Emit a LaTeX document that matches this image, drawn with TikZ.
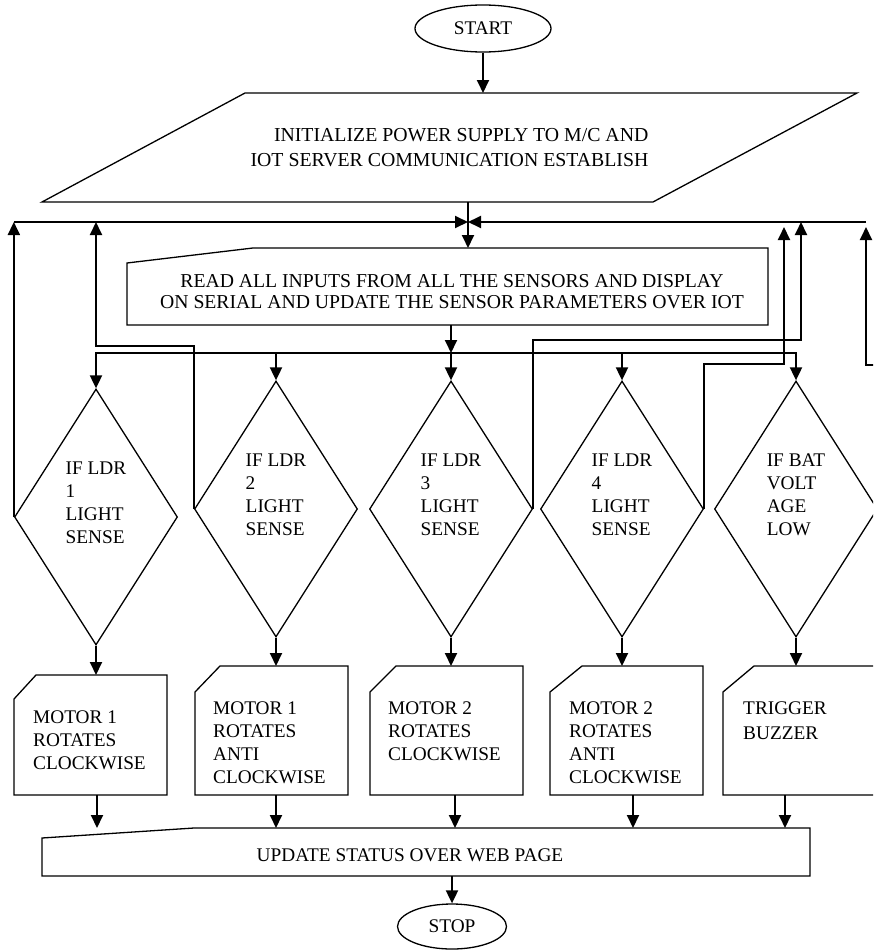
\documentclass[tikz,border=0pt]{standalone}
\usepackage{fontspec}
\setmainfont{Liberation Serif}
\usetikzlibrary{shapes.geometric,arrows.meta,calc}
\begin{document}
\begin{tikzpicture}[x=1pt,y=-1pt,
  txt/.style={font=\fontsize{19.3}{23}\selectfont, inner sep=0pt},
  frame/.style={inner sep=0pt, outer sep=0pt, draw=none},
  outl/.style={draw=black, line width=1.3pt, line join=miter},
  arr/.style={line width=1.9pt, -{Triangle[length=13pt,width=12pt]}},
  conn/.style={line width=1.9pt},
  term/.style={ellipse, draw, line width=1.3pt, inner sep=0pt, font=\fontsize{19.3}{23}\selectfont},
  dec/.style={diamond, draw, line width=1.3pt, minimum width=163pt, minimum height=256pt, inner sep=0pt}
]
\fill[white] (0,0) rectangle (873,950);
\useasboundingbox (0,0) rectangle (873,950);
\clip (0,0) rectangle (873,950);

% start
\node[term, minimum width=136pt, minimum height=47pt] (start) at (483,28.5) {START};

% initialize (parallelogram)
\node[frame, minimum width=815pt, minimum height=109pt, align=right, font=\fontsize{19.8}{25}\selectfont] (init) at (449.5,147.5) {INITIALIZE POWER SUPPLY TO M/C AND\\IOT SERVER COMMUNICATION ESTABLISH};
\draw[outl] ($(init.north west)+(203,0)$) -- (init.north east) -- ($(init.south east)+(-204,0)$) -- (init.south west) -- cycle;

\coordinate (J) at (468,222);
\draw[arr] (start.south) -- (start.south |- init.north);
\draw[conn] (J |- init.south) -- (J);

% read inputs
\node[frame, minimum width=641pt, minimum height=77pt] (read) at (447.5,286.5) {};
\draw[outl] (read.south west) -- ($(read.north west)+(0,15)$) -- ($(read.north west)+(126,0)$) -- (read.north east) -- (read.south east) -- cycle;
\node[txt, align=center, font=\fontsize{19.7}{21.5}\selectfont] (readt) at (452,291.5) {READ ALL INPUTS FROM ALL THE SENSORS AND DISPLAY\\ON SERIAL AND UPDATE THE SENSOR PARAMETERS OVER IOT};
\draw[arr] (J) -- (J |- read.north);

% decisions
\node[dec] (d1) at (96,517) {};
\node[dec] (d2) at (276,509) {};
\node[dec] (d3) at (451,509) {};
\node[dec] (d4) at (622,509) {};
\node[dec] (d5) at (796,509) {};
\node[txt, align=left] (d1t) at (96,503) {IF LDR\\1\\LIGHT\\SENSE};
\node[txt, align=left] (d2t) at (276,495) {IF LDR\\2\\LIGHT\\SENSE};
\node[txt, align=left] (d3t) at (451,495) {IF LDR\\3\\LIGHT\\SENSE};
\node[txt, align=left] (d4t) at (622,495) {IF LDR\\4\\LIGHT\\SENSE};
\node[txt, align=left] (d5t) at (796,495) {IF BAT\\VOLT\\AGE\\LOW};

% distribution to decisions
\coordinate (dl) at (0,353);
\draw[arr] (d3.north |- read.south) -- (d3.north |- dl);
\draw[arr] (d3.north |- dl) -| (d1.north);
\draw[arr] (d3.north |- dl) -| (d5.north);
\draw[arr] (d2.north |- dl) -- (d2.north);
\draw[arr] (d3.north |- dl) -- (d3.north);
\draw[arr] (d4.north |- dl) -- (d4.north);

% feedback loops
\coordinate (r3) at (801,222);
\coordinate (r4) at (784,227);
\coordinate (r5) at (866,227);
\coordinate (R) at (866,222);
\coordinate (off5) at (885,365);
\draw[arr] (d1.west) -- (d1.west |- J);
\draw[arr] (d1.west |- J) -- (J);
\draw[arr] (d2.west) -- (d2.west |- 0,346) -| (d1.north |- J);
\draw[arr] (d3.east) -- (d3.east |- 0,340) -| (r3);
\draw[arr] (d4.east) -- (d4.east |- 0,364) -| (r4);
\draw[arr] (off5) -| (r5);
\draw[arr] (R) -- (J);

% action boxes
\node[frame, minimum width=153pt, minimum height=120pt] (m1) at (90.5,735) {};
\draw[outl] (m1.south west) -- ($(m1.north west)+(0,24)$) -- ($(m1.north west)+(22,0)$) -- (m1.north east) -- (m1.south east) -- cycle;
\node[txt, align=left, anchor=north west] (m1t) at ($(m1.north west)+(19,35.5)$) {MOTOR 1\\ROTATES\\CLOCKWISE};

\node[frame, minimum width=153pt, minimum height=129pt] (m2) at (271.5,730.5) {};
\draw[outl] (m2.south west) -- ($(m2.north west)+(0,26)$) -- ($(m2.north west)+(25,0)$) -- (m2.north east) -- (m2.south east) -- cycle;
\node[txt, align=left, anchor=north west] (m2t) at ($(m2.north west)+(18,35.5)$) {MOTOR 1\\ROTATES\\ANTI\\CLOCKWISE};

\node[frame, minimum width=153pt, minimum height=129pt] (m3) at (446.5,730.5) {};
\draw[outl] (m3.south west) -- ($(m3.north west)+(0,26)$) -- ($(m3.north west)+(26,0)$) -- (m3.north east) -- (m3.south east) -- cycle;
\node[txt, align=left, anchor=north west] (m3t) at ($(m3.north west)+(18,35.5)$) {MOTOR 2\\ROTATES\\CLOCKWISE};

\node[frame, minimum width=153pt, minimum height=129pt] (m4) at (626.5,730.5) {};
\draw[outl] (m4.south west) -- ($(m4.north west)+(0,26)$) -- ($(m4.north west)+(32,0)$) -- (m4.north east) -- (m4.south east) -- cycle;
\node[txt, align=left, anchor=north west] (m4t) at ($(m4.north west)+(19,35.5)$) {MOTOR 2\\ROTATES\\ANTI\\CLOCKWISE};

\node[frame, minimum width=153pt, minimum height=129pt] (m5) at (799.5,730.5) {};
\draw[outl] (m5.south west) -- ($(m5.north west)+(0,26)$) -- ($(m5.north west)+(31,0)$) -- (m5.north east) -- (m5.south east) -- cycle;
\node[txt, align=left, anchor=north west, font=\fontsize{19.3}{25}\selectfont] (m5t) at ($(m5.north west)+(20,35.5)$) {TRIGGER\\BUZZER};

\draw[arr] (d1.south) -- (d1.south |- m1.north);
\draw[arr] (d2.south) -- (d2.south |- m2.north);
\draw[arr] (d3.south) -- (d3.south |- m3.north);
\draw[arr] (d4.south) -- (d4.south |- m4.north);
\draw[arr] (d5.south) -- (d5.south |- m5.north);

% update status
\node[frame, minimum width=768pt, minimum height=48pt] (upd) at (426,852) {};
\draw[outl] (upd.south west) -- ($(upd.north west)+(0,10)$) -- ($(upd.north west)+(152,0)$) -- (upd.north east) -- (upd.south east) -- cycle;
\node[txt] (updt) at (410,855) {UPDATE STATUS OVER WEB PAGE};

\coordinate (b1) at (97,0);
\coordinate (b2) at (276,0);
\coordinate (b3) at (455,0);
\coordinate (b4) at (633,0);
\coordinate (b5) at (785,0);
\draw[arr] (b1 |- m1.south) -- (b1 |- upd.north);
\draw[arr] (b2 |- m2.south) -- (b2 |- upd.north);
\draw[arr] (b3 |- m3.south) -- (b3 |- upd.north);
\draw[arr] (b4 |- m4.south) -- (b4 |- upd.north);
\draw[arr] (b5 |- m5.south) -- (b5 |- upd.north);

% stop
\node[term, minimum width=109pt, minimum height=45pt] (stop) at (452,926.5) {STOP};
\draw[arr] (stop.north |- upd.south) -- (stop.north);
\end{tikzpicture}
\end{document}
